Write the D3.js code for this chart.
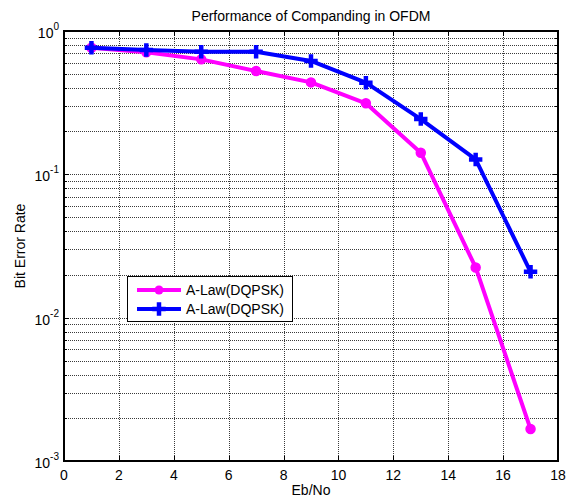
<!DOCTYPE html>
<html>
<head>
<meta charset="utf-8">
<script src="https://cdn.jsdelivr.net/npm/d3@7/dist/d3.min.js"></script>
<style>
  html, body { margin: 0; padding: 0; background: #fff; }
  svg { display: block; font-family: "Liberation Sans", Arial, sans-serif; }
</style>
</head>
<body>
<svg id="chart" width="567" height="501"></svg>
<script>
// Eb/No sample points (dB)
const ebno = [1, 3, 5, 7, 9, 11, 13, 15, 17];
// Bit error rate per series
const berMagenta = [0.764, 0.71, 0.634, 0.526, 0.438, 0.313, 0.1415, 0.0224, 0.00167];
const berBlue    = [0.764, 0.737, 0.717, 0.717, 0.618, 0.436, 0.243, 0.127, 0.0209];
const seriesNames = ["A-Law(DQPSK)", "A-Law(DQPSK)"];
const xTicks = [0, 2, 4, 6, 8, 10, 12, 14, 16, 18];
const yDecades = [-3, -2, -1, 0];

const svg = d3.select("#chart");
const m = { left: 64, right: 558, top: 31, bottom: 461 };
const fs = 14;

const x = d3.scaleLinear().domain([0, 18]).range([m.left, m.right]);
const y = d3.scaleLog().domain([1e-3, 1]).range([m.bottom, m.top]);

// minor values within each decade
const minorVals = [];
for (let e = -3; e < 0; e++) {
  for (let k = 2; k <= 9; k++) minorVals.push(k * Math.pow(10, e));
}
const majorVals = yDecades.map(e => Math.pow(10, e));

const grid = svg.append("g").attr("stroke", "#3a3a3a").attr("stroke-width", 1)
  .attr("stroke-dasharray", "1,1").attr("shape-rendering", "crispEdges");
// vertical grid
grid.selectAll("line.vx").data(xTicks.slice(1, -1)).join("line")
  .attr("x1", d => Math.round(x(d)) + 0.5).attr("x2", d => Math.round(x(d)) + 0.5)
  .attr("y1", m.top).attr("y2", m.bottom);
// horizontal grid (major + minor)
grid.selectAll("line.hy").data(minorVals.concat(majorVals.slice(1, -1))).join("line")
  .attr("x1", m.left).attr("x2", m.right)
  .attr("y1", d => Math.round(y(d)) + 0.5).attr("y2", d => Math.round(y(d)) + 0.5);

// tick marks, pointing inward on all four sides
const ticks = svg.append("g").attr("stroke", "#000").attr("stroke-width", 1)
  .attr("shape-rendering", "crispEdges");
xTicks.forEach(t => {
  const px = Math.round(x(t)) + 0.5;
  ticks.append("line").attr("x1", px).attr("x2", px).attr("y1", m.bottom).attr("y2", m.bottom - 5);
  ticks.append("line").attr("x1", px).attr("x2", px).attr("y1", m.top).attr("y2", m.top + 5);
});
majorVals.concat(minorVals).forEach(v => {
  const py = Math.round(y(v)) + 0.5;
  const len = majorVals.includes(v) ? 5 : 3;
  ticks.append("line").attr("x1", m.left).attr("x2", m.left + len).attr("y1", py).attr("y2", py);
  ticks.append("line").attr("x1", m.right).attr("x2", m.right - len).attr("y1", py).attr("y2", py);
});

// axes box
svg.append("rect").attr("x", m.left).attr("y", m.top)
  .attr("width", m.right - m.left).attr("height", m.bottom - m.top)
  .attr("fill", "none").attr("stroke", "#000").attr("stroke-width", 2);

// x tick labels
svg.append("g").selectAll("text").data(xTicks).join("text")
  .attr("x", d => x(d)).attr("y", m.bottom + 19)
  .attr("text-anchor", "middle").attr("font-size", fs).attr("fill", "#000")
  .text(d => d);

// y tick labels: 10 with superscript exponent
const yl = svg.append("g").selectAll("text").data(yDecades).join("text")
  .attr("x", m.left - 5).attr("y", d => y(Math.pow(10, d)) + 7)
  .attr("text-anchor", "end").attr("font-size", fs).attr("fill", "#000");
yl.append("tspan").text("10");
yl.append("tspan").attr("font-size", 10).attr("dy", -8).text(d => d);

// axis titles
svg.append("text").attr("x", (m.left + m.right) / 2).attr("y", 21)
  .attr("text-anchor", "middle").attr("font-size", fs).text("Performance of Companding in OFDM");
svg.append("text").attr("x", (m.left + m.right) / 2).attr("y", 495)
  .attr("text-anchor", "middle").attr("font-size", fs).text("Eb/No");
svg.append("text").attr("transform", `translate(25,${(m.top + m.bottom) / 2}) rotate(-90)`)
  .attr("text-anchor", "middle").attr("font-size", fs).text("Bit Error Rate");

// series
const line = d3.line().x(d => x(d[0])).y(d => y(d[1]));
const magPts = ebno.map((e, i) => [e, berMagenta[i]]);
const bluPts = ebno.map((e, i) => [e, berBlue[i]]);

svg.append("path").datum(magPts).attr("d", line)
  .attr("fill", "none").attr("stroke", "#ff00ff").attr("stroke-width", 4).attr("stroke-linejoin", "round");
svg.append("g").selectAll("circle").data(magPts).join("circle")
  .attr("cx", d => x(d[0])).attr("cy", d => y(d[1])).attr("r", 4.5)
  .attr("fill", "#ff00ff").attr("stroke", "#ff00ff").attr("stroke-width", 1.5);

svg.append("path").datum(bluPts).attr("d", line)
  .attr("fill", "none").attr("stroke", "#0000ff").attr("stroke-width", 4).attr("stroke-linejoin", "round");
const plus = d3.symbol().type(d3.symbolCross).size(100);
svg.append("g").selectAll("path").data(bluPts).join("path")
  .attr("transform", d => `translate(${x(d[0])},${y(d[1])})`)
  .attr("d", plus).attr("fill", "#0000ff");

// legend
const lg = svg.append("g");
lg.append("rect").attr("x", 127.5).attr("y", 276.5).attr("width", 165).attr("height", 45)
  .attr("fill", "#fff").attr("stroke", "#000").attr("stroke-width", 1);
const rows = [
  { name: seriesNames[0], color: "#ff00ff", mark: "circle", yy: 290 },
  { name: seriesNames[1], color: "#0000ff", mark: "plus", yy: 309 }
];
rows.forEach(r => {
  lg.append("line").attr("x1", 137).attr("x2", 181).attr("y1", r.yy).attr("y2", r.yy)
    .attr("stroke", r.color).attr("stroke-width", 4);
  if (r.mark === "circle") {
    lg.append("circle").attr("cx", 159).attr("cy", r.yy).attr("r", 4.5).attr("fill", r.color);
  } else {
    lg.append("path").attr("transform", `translate(159,${r.yy})`).attr("d", plus).attr("fill", r.color);
  }
  lg.append("text").attr("x", 186).attr("y", r.yy + 5).attr("font-size", fs).text(r.name);
});
</script>
</body>
</html>
